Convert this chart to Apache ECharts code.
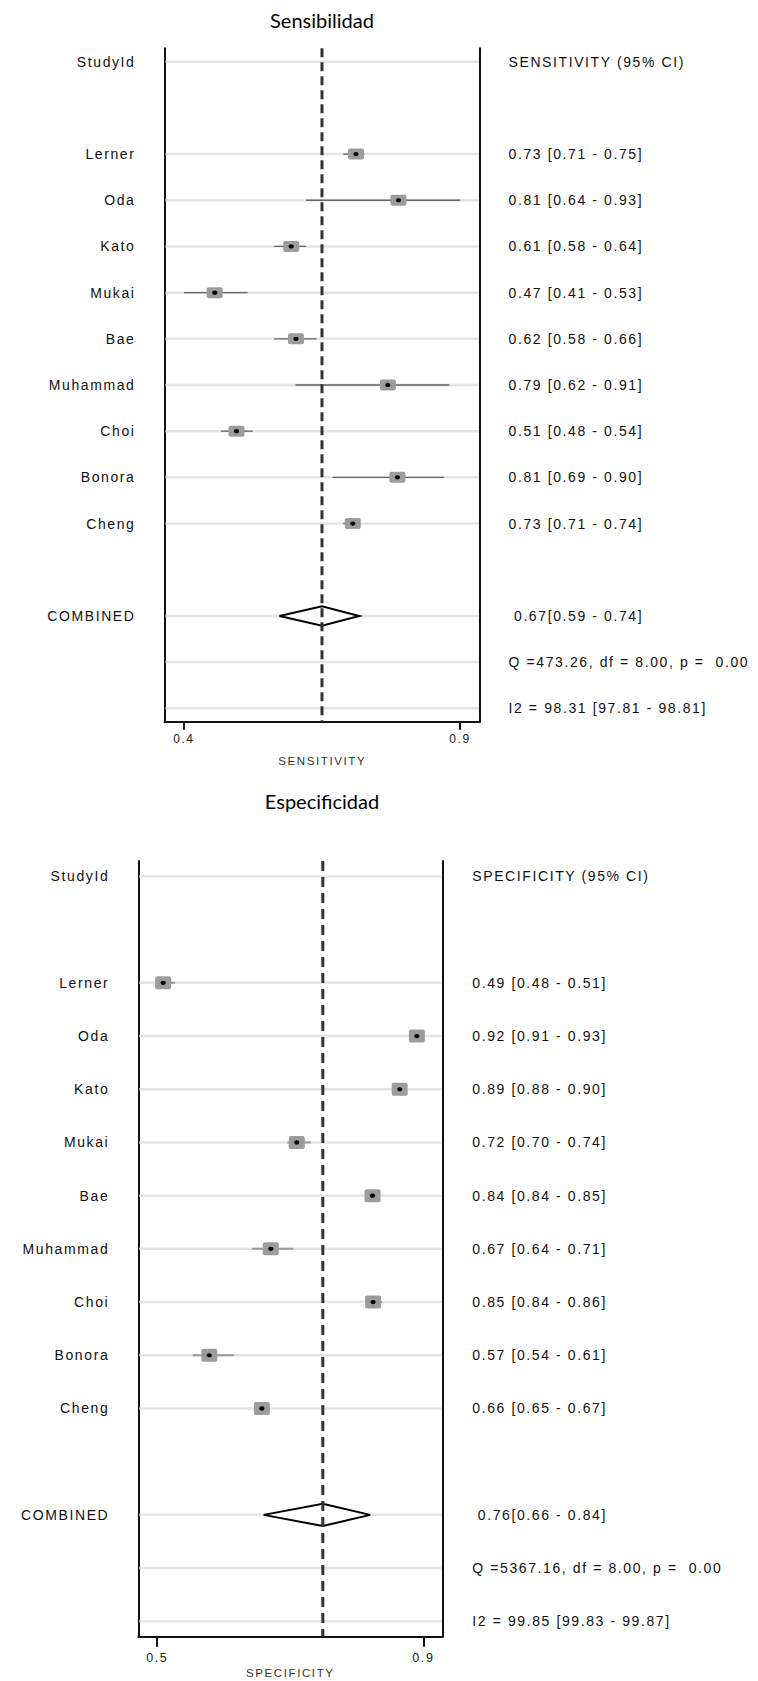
<!DOCTYPE html>
<html><head><meta charset="utf-8">
<script src="https://cdn.jsdelivr.net/npm/echarts@6/dist/echarts.min.js"></script>
<style>
html,body{margin:0;padding:0;background:#fff;}
#c{width:758px;height:1681px;}
#c text[style*="Liberation"]{letter-spacing:1.6px;}
</style></head><body><div id="c"></div>
<script>
// ---------- data ----------
const studies = ['Lerner','Oda','Kato','Mukai','Bae','Muhammad','Choi','Bonora','Cheng'];

const titleSens = 'Sensibilidad';
const sensEst = [0.734, 0.814, 0.612, 0.468, 0.621, 0.794, 0.509, 0.812, 0.728];
const sensLo  = [0.71, 0.64, 0.58, 0.41, 0.58, 0.62, 0.48, 0.69, 0.71];
const sensHi  = [0.75, 0.93, 0.64, 0.53, 0.66, 0.91, 0.54, 0.90, 0.74];
const sensText = ['0.73 [0.71 - 0.75]','0.81 [0.64 - 0.93]','0.61 [0.58 - 0.64]','0.47 [0.41 - 0.53]','0.62 [0.58 - 0.66]','0.79 [0.62 - 0.91]','0.51 [0.48 - 0.54]','0.81 [0.69 - 0.90]','0.73 [0.71 - 0.74]'];
const sensCombined = [0.67, 0.59, 0.74];
const sensCombinedText = ' 0.67[0.59 - 0.74]';
const sensQText = 'Q =473.26, df = 8.00, p =  0.00';
const sensI2Text = 'I2 = 98.31 [97.81 - 98.81]';
const sensHeader = 'SENSITIVITY (95% CI)';
const sensAxisName = 'SENSITIVITY';

const titleSpec = 'Especificidad';
const specEst = [0.49, 0.919, 0.89, 0.716, 0.844, 0.672, 0.845, 0.568, 0.657];
const specLo  = [0.48, 0.91, 0.88, 0.70, 0.84, 0.64, 0.84, 0.54, 0.65];
const specHi  = [0.51, 0.93, 0.90, 0.74, 0.85, 0.71, 0.86, 0.61, 0.67];
const specText = ['0.49 [0.48 - 0.51]','0.92 [0.91 - 0.93]','0.89 [0.88 - 0.90]','0.72 [0.70 - 0.74]','0.84 [0.84 - 0.85]','0.67 [0.64 - 0.71]','0.85 [0.84 - 0.86]','0.57 [0.54 - 0.61]','0.66 [0.65 - 0.67]'];
const specCombined = [0.76, 0.66, 0.84];
const specCombinedText = ' 0.76[0.66 - 0.84]';
const specQText = 'Q =5367.16, df = 8.00, p =  0.00';
const specI2Text = 'I2 = 99.85 [99.83 - 99.87]';
const specHeader = 'SPECIFICITY (95% CI)';
const specAxisName = 'SPECIFICITY';

const headerLeft = 'StudyId';
const combinedLabel = 'COMBINED';

// ---------- helpers ----------
const FONT = 'Liberation Sans';
const ROW_MIN = -0.29, ROW_MAX = 14.29;

function leftLabels() {
  const o = {0: headerLeft, 12: combinedLabel};
  studies.forEach((s, i) => { o[i + 2] = s; });
  return o;
}
function rightLabels(header, texts, comb, q, i2) {
  const o = {0: header, 12: comb, 13: q, 14: i2};
  texts.forEach((t, i) => { o[i + 2] = t; });
  return o;
}
function gridRows() {
  const r = [0, 12, 13, 14];
  studies.forEach((s, i) => r.push(i + 2));
  return r;
}

function yAxes(gi, rightMap, rightMargin) {
  const L = leftLabels();
  return [
    {gridIndex: gi, type: 'value', inverse: true, min: ROW_MIN, max: ROW_MAX, position: 'left',
     axisLine: {show: true, onZero: false, lineStyle: {color: '#111', width: 2}},
     axisTick: {show: false}, splitLine: {show: false},
     axisLabel: {customValues: Object.keys(L).map(Number), formatter: v => L[v] || '',
                 margin: 29, color: '#111', fontFamily: FONT, fontSize: 14}},
    {gridIndex: gi, type: 'value', inverse: true, min: ROW_MIN, max: ROW_MAX, position: 'right',
     axisLine: {show: true, onZero: false, lineStyle: {color: '#111', width: 2}},
     axisTick: {show: false}, splitLine: {show: false},
     axisLabel: {customValues: Object.keys(rightMap).map(Number), formatter: v => rightMap[v] || '',
                 margin: rightMargin, color: '#111', fontFamily: FONT, fontSize: 14, align: 'left'}}
  ];
}

function xAxis(gi, min, max, lo, hi, name, tickLen, labelSize, labelMargin, nameGap) {
  const ticks = [Math.min(...lo), Math.max(...hi)];
  return {gridIndex: gi, type: 'value', min: min, max: max, position: 'bottom',
    axisLine: {onZero: false, lineStyle: {color: '#111', width: 2}},
    axisTick: {customValues: ticks, length: tickLen, lineStyle: {color: '#111', width: 2}},
    axisLabel: {customValues: ticks, formatter: v => v.toFixed(1), margin: labelMargin,
                color: '#222', fontFamily: FONT, fontSize: labelSize},
    splitLine: {show: false},
    name: name, nameLocation: 'middle', nameGap: nameGap, nameMoveOverlap: false,
    nameTextStyle: {color: '#333', fontFamily: FONT, fontSize: 11.5, verticalAlign: 'top'}};
}

function seriesFor(gi, yi, est, lo, hi, comb, whiskerColor, whiskerWidth, boxH, diamondH, dash) {
  const out = [];
  out.push({type: 'custom', xAxisIndex: gi, yAxisIndex: yi, z: 1, silent: true,
    data: gridRows().map(r => [comb[0], r]), encode: {x: 0, y: 1},
    renderItem: (params, api) => {
      const cs = params.coordSys;
      const y = api.coord([api.value(0), api.value(1)])[1];
      return {type: 'line', shape: {x1: cs.x + 1, y1: y, x2: cs.x + cs.width - 1, y2: y},
              style: {stroke: '#e4e4e4', lineWidth: 2.5}};
    }});
  out.push({type: 'custom', xAxisIndex: gi, yAxisIndex: yi, z: 2, silent: true,
    data: studies.map((s, i) => [est[i], i + 2, lo[i], hi[i]]), encode: {x: 0, y: 1},
    renderItem: (params, api) => {
      const r = api.value(1);
      const pE = api.coord([api.value(0), r]);
      const pL = api.coord([api.value(2), r]);
      const pH = api.coord([api.value(3), r]);
      return {type: 'group', children: [
        {type: 'line', shape: {x1: pL[0], y1: pL[1], x2: pH[0], y2: pH[1]},
         style: {stroke: whiskerColor, lineWidth: whiskerWidth}},
        {type: 'rect', shape: {x: pE[0] - 8, y: pE[1] - boxH / 2, width: 16, height: boxH, r: 2},
         style: {fill: '#9c9c9c'}},
        {type: 'ellipse', shape: {cx: pE[0], cy: pE[1], rx: 2.6, ry: 2.1}, style: {fill: '#000'}}
      ]};
    }});
  out.push({type: 'custom', xAxisIndex: gi, yAxisIndex: yi, z: 3, silent: true,
    data: [[comb[0], 12, comb[1], comb[2]]], encode: {x: 0, y: 1},
    renderItem: (params, api) => {
      const pE = api.coord([api.value(0), 12]);
      const pL = api.coord([api.value(2), 12]);
      const pH = api.coord([api.value(3), 12]);
      return {type: 'polygon', shape: {points: [[pL[0], pL[1]], [pE[0], pE[1] - diamondH], [pH[0], pH[1]], [pE[0], pE[1] + diamondH]]},
              style: {fill: '#fff', stroke: '#000', lineWidth: 2}};
    }});
  out.push({type: 'custom', xAxisIndex: gi, yAxisIndex: yi, z: 4, silent: true,
    data: [[comb[0], 7]], encode: {x: 0, y: 1},
    renderItem: (params, api) => {
      const cs = params.coordSys;
      const x = api.coord([api.value(0), 7])[0];
      return {type: 'line', shape: {x1: x, y1: cs.y, x2: x, y2: cs.y + cs.height},
              style: {stroke: '#333', lineWidth: 3, lineDash: dash}};
    }});
  return out;
}

// ---------- chart ----------
const chart = echarts.init(document.getElementById('c'), null, {renderer: 'svg'});
const ySens = yAxes(0, rightLabels(sensHeader, sensText, sensCombinedText, sensQText, sensI2Text), 28.5);
const ySpec = yAxes(1, rightLabels(specHeader, specText, specCombinedText, specQText, specI2Text), 30);

chart.setOption({
  animation: false,
  backgroundColor: '#fff',
  grid: [
    {left: 164.5, top: 48.3, width: 315.5, height: 673.4},
    {left: 138.3, top: 861, width: 304, height: 775.7}
  ],
  xAxis: [
    xAxis(0, 0.3735, 0.9675, sensLo, sensHi, sensAxisName, 8, 12, 11.5, 33),
    xAxis(1, 0.448, 0.962, specLo, specHi, specAxisName, 10, 12.5, 15, 30.5)
  ],
  yAxis: [ySens[0], ySens[1], ySpec[0], ySpec[1]],
  graphic: [
    {type: 'text', x: 322, y: 20, style: {text: titleSens, fontFamily: 'Lato', fontSize: 20, fill: '#000', align: 'center', verticalAlign: 'middle'}},
    {type: 'text', x: 322, y: 801, style: {text: titleSpec, fontFamily: 'Lato', fontSize: 20, fill: '#000', align: 'center', verticalAlign: 'middle'}}
  ],
  series: [
    ...seriesFor(0, 0, sensEst, sensLo, sensHi, sensCombined, '#666', 1.3, 11, 9.7, [9, 5]),
    ...seriesFor(1, 2, specEst, specLo, specHi, specCombined, '#999', 2, 13, 11.2, [10, 6])
  ]
});
</script></body></html>
